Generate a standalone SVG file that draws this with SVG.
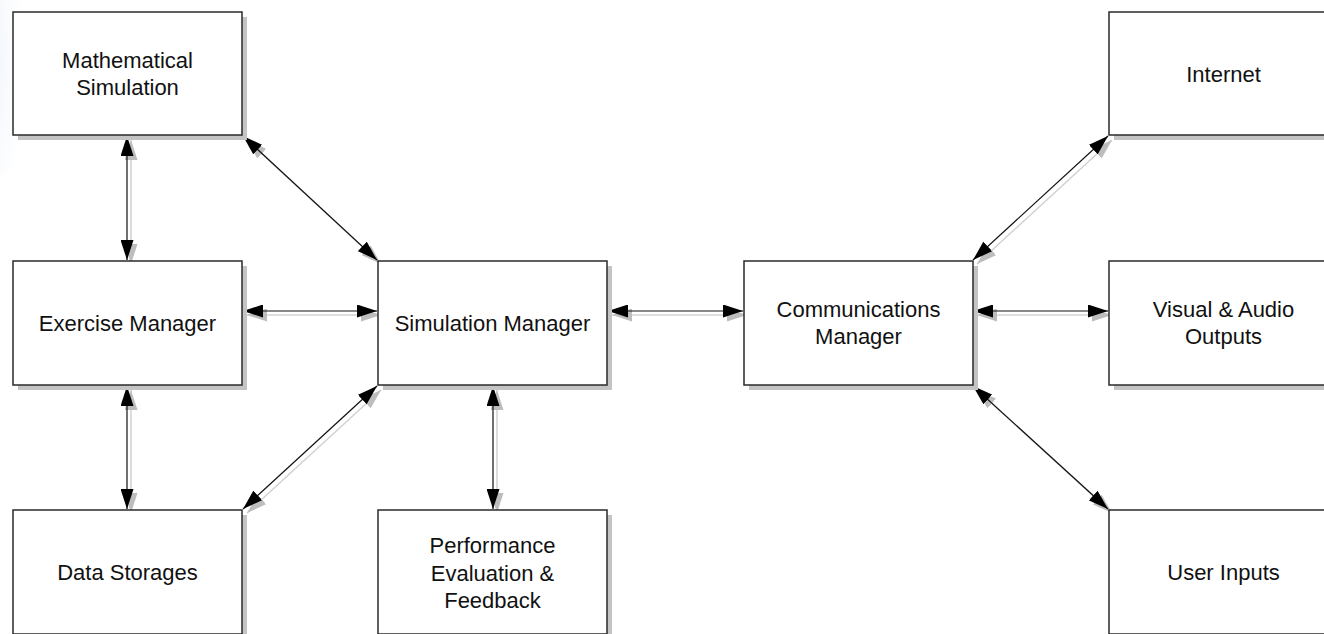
<svg xmlns="http://www.w3.org/2000/svg" width="1324" height="634" viewBox="0 0 1324 634">
<style>
.box{fill:#ffffff;stroke:#2a2a2a;stroke-width:1.5}
.shadow{fill:#c4c4c4;stroke:none}
.lbl{font-family:"Liberation Sans",Arial,sans-serif;font-size:22px;fill:#111;text-anchor:middle}
.ln{stroke:#111;stroke-width:1.2;fill:none;marker-start:url(#ah);marker-end:url(#ah)}
.sh{stroke:#d2d2d2;stroke-width:1.5;fill:none;marker-start:url(#ahs);marker-end:url(#ahs)}
</style>
<defs>
<marker id="ah" markerUnits="userSpaceOnUse" markerWidth="20" markerHeight="13" viewBox="0 0 20 13" refX="20" refY="6.5" orient="auto-start-reverse"><path d="M0,0 L20,6.5 L0,13 z" fill="#000"/></marker>
<marker id="ahs" markerUnits="userSpaceOnUse" markerWidth="20" markerHeight="13" viewBox="0 0 20 13" refX="20" refY="6.5" orient="auto-start-reverse"><path d="M0,0 L20,6.5 L0,13 z" fill="#bdbdbd"/></marker>
<radialGradient id="glow" cx="0" cy="0.5" r="1">
<stop offset="0" stop-color="#d3e1f3" stop-opacity="1"/>
<stop offset="1" stop-color="#ffffff" stop-opacity="0"/>
</radialGradient>
</defs>
<rect x="0" y="0" width="1324" height="634" fill="#ffffff"/>
<ellipse cx="0" cy="60" rx="34" ry="115" fill="url(#glow)"/>

<g id="connectors">
<g transform="translate(4,4)">
<line class="sh" x1="127" y1="136" x2="127" y2="260"/>
<line class="sh" x1="127" y1="386" x2="127" y2="509"/>
<line class="sh" x1="243" y1="311" x2="377" y2="311"/>
<line class="sh" x1="243" y1="136" x2="377" y2="260"/>
<line class="sh" x1="243" y1="509" x2="377" y2="386"/>
<line class="sh" x1="493" y1="386" x2="493" y2="509"/>
<line class="sh" x1="608" y1="311" x2="743" y2="311"/>
<line class="sh" x1="973" y1="311" x2="1108" y2="311"/>
<line class="sh" x1="973" y1="260" x2="1108" y2="136"/>
<line class="sh" x1="973" y1="386" x2="1108" y2="509"/>
</g>
<line class="ln" x1="127" y1="136" x2="127" y2="260"/>
<line class="ln" x1="127" y1="386" x2="127" y2="509"/>
<line class="ln" x1="243" y1="311" x2="377" y2="311"/>
<line class="ln" x1="243" y1="136" x2="377" y2="260"/>
<line class="ln" x1="243" y1="509" x2="377" y2="386"/>
<line class="ln" x1="493" y1="386" x2="493" y2="509"/>
<line class="ln" x1="608" y1="311" x2="743" y2="311"/>
<line class="ln" x1="973" y1="311" x2="1108" y2="311"/>
<line class="ln" x1="973" y1="260" x2="1108" y2="136"/>
<line class="ln" x1="973" y1="386" x2="1108" y2="509"/>
</g>

<g id="math-sim">
<rect class="shadow" x="18" y="17" width="229" height="123"/>
<rect class="box" x="13" y="12" width="229" height="123"/>
<text class="lbl" x="127.5" y="68">Mathematical</text>
<text class="lbl" x="127.5" y="95">Simulation</text>
</g>
<g id="exercise-manager">
<rect class="shadow" x="18" y="266" width="229" height="124"/>
<rect class="box" x="13" y="261" width="229" height="124"/>
<text class="lbl" x="127.5" y="331">Exercise Manager</text>
</g>
<g id="data-storages">
<rect class="shadow" x="18" y="515" width="229" height="124"/>
<rect class="box" x="13" y="510" width="229" height="124"/>
<text class="lbl" x="127.5" y="580">Data Storages</text>
</g>
<g id="simulation-manager">
<rect class="shadow" x="383" y="266" width="229" height="124"/>
<rect class="box" x="378" y="261" width="229" height="124"/>
<text class="lbl" x="492.5" y="331">Simulation Manager</text>
</g>
<g id="performance">
<rect class="shadow" x="383" y="515" width="229" height="124"/>
<rect class="box" x="378" y="510" width="229" height="124"/>
<text class="lbl" x="492.5" y="553">Performance</text>
<text class="lbl" x="492.5" y="581">Evaluation &amp;</text>
<text class="lbl" x="492.5" y="608">Feedback</text>
</g>
<g id="communications-manager">
<rect class="shadow" x="749" y="266" width="229" height="124"/>
<rect class="box" x="744" y="261" width="229" height="124"/>
<text class="lbl" x="858.5" y="317">Communications</text>
<text class="lbl" x="858.5" y="344">Manager</text>
</g>
<g id="internet">
<rect class="shadow" x="1114" y="17" width="229" height="123"/>
<rect class="box" x="1109" y="12" width="229" height="123"/>
<text class="lbl" x="1223.5" y="82">Internet</text>
</g>
<g id="visual-audio">
<rect class="shadow" x="1114" y="266" width="229" height="124"/>
<rect class="box" x="1109" y="261" width="229" height="124"/>
<text class="lbl" x="1223.5" y="317">Visual &amp; Audio</text>
<text class="lbl" x="1223.5" y="344">Outputs</text>
</g>
<g id="user-inputs">
<rect class="shadow" x="1114" y="515" width="229" height="124"/>
<rect class="box" x="1109" y="510" width="229" height="124"/>
<text class="lbl" x="1223.5" y="580">User Inputs</text>
</g>
</svg>
